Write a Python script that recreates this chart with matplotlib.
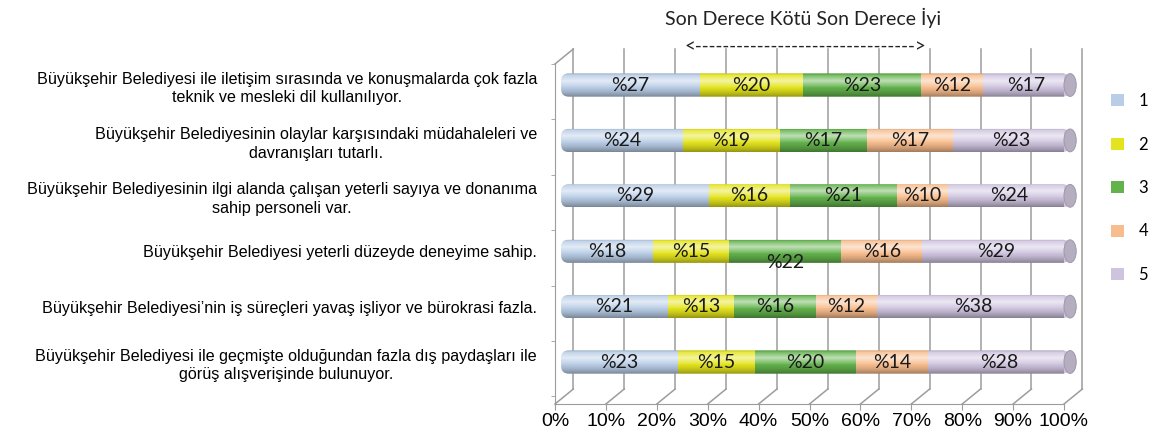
import numpy as np
import matplotlib
matplotlib.use("Agg")
import matplotlib.pyplot as plt
from matplotlib.patches import Patch, FancyBboxPatch, Ellipse

# --- data -------------------------------------------------------------------
statements = [
    "Büyükşehir Belediyesi ile iletişim sırasında ve konuşmalarda çok fazla\nteknik ve mesleki dil kullanılıyor.",
    "Büyükşehir Belediyesinin olaylar karşısındaki müdahaleleri ve\ndavranışları tutarlı.",
    "Büyükşehir Belediyesinin ilgi alanda çalışan yeterli sayıya ve donanıma\nsahip personeli var.",
    "Büyükşehir Belediyesi yeterli düzeyde deneyime sahip.",
    "Büyükşehir Belediyesi’nin iş süreçleri yavaş işliyor ve bürokrasi fazla.",
    "Büyükşehir Belediyesi ile geçmişte olduğundan fazla dış paydaşları ile\ngörüş alışverişinde bulunuyor.",
]
score_labels = ["1", "2", "3", "4", "5"]
score_1 = [27, 24, 29, 18, 21, 23]
score_2 = [20, 19, 16, 15, 13, 15]
score_3 = [23, 17, 21, 22, 16, 20]
score_4 = [12, 17, 10, 16, 12, 14]
score_5 = [17, 23, 24, 29, 38, 28]
x_ticks = [0, 10, 20, 30, 40, 50, 60, 70, 80, 90, 100]
x_tick_labels = [f"{t}%" for t in x_ticks]
scale_title = "Son Derece Kötü Son Derece İyi"
scale_arrow = "<" + "-" * 32 + ">"

series = [score_1, score_2, score_3, score_4, score_5]
colors = ["#B9CDE6", "#E4E41E", "#63B24C", "#F8BD8E", "#CFC4DF"]

# --- figure / axes ------------------------------------------------------------
W, H = 1176, 437
fig = plt.figure(figsize=(W / 100, H / 100), dpi=100)
ax = fig.add_axes([555 / W, 1 - 404 / H, (1064 - 555) / W, (404 - 30) / H])
Y_FLOOR = 5.758
Y_TOP = -0.993

grid_c = "#9C9C9C"
DX, DY = 3.6, 0.27          # depth offset of the back wall
WALL_TOP = -0.38            # top of the front (left) wall
BAR_X0 = 1.2                # bars sit a little behind the front plane
BAR_H = 0.42

# back wall gridlines and floor diagonals
for t in x_ticks:
    ax.plot([t + DX, t + DX], [WALL_TOP - DY, Y_FLOOR - DY], color=grid_c,
            lw=1.1, zorder=1, clip_on=False)
    ax.plot([t, t + DX], [Y_FLOOR, Y_FLOOR - DY], color=grid_c,
            lw=1.1, zorder=1, clip_on=False)
# top edge of the left wall
ax.plot([0, DX], [WALL_TOP, WALL_TOP - DY], color=grid_c, lw=1.1,
        zorder=1, clip_on=False)

# spines as the front edges of floor and left wall
for s in ["top", "right"]:
    ax.spines[s].set_visible(False)
ax.spines["bottom"].set_color(grid_c)
ax.spines["left"].set_color(grid_c)
ax.spines["left"].set_bounds(Y_FLOOR, WALL_TOP)

ax.set_xticks(x_ticks)
ax.set_xticklabels(x_tick_labels, fontsize=14, family="Liberation Sans")
ax.tick_params(axis="x", direction="out", length=4.5, color=grid_c, pad=2)

rows = np.arange(len(statements))
ax.set_yticks(rows)
ax.set_yticklabels(statements, fontsize=11.6, family="Liberation Sans",
                   multialignment="center", linespacing=1.3)
ax.tick_params(axis="y", which="major", length=0, pad=13)
ax.set_yticks(WALL_TOP + np.arange(len(statements) + 1), minor=True)
ax.tick_params(axis="y", which="minor", direction="out", length=3,
               color=grid_c)

# cylinder shading profile (top -> bottom)
n = 64
u = np.linspace(0, 1, n)
light = np.clip(1 - np.abs(u - 0.32) / 0.30, 0, 1) * 0.6
dark = np.clip((u - 0.55) / 0.45, 0, 1) ** 1.5 * 0.35
top_edge = np.clip(1 - u / 0.08, 0, 1) * 0.18
is_light = light > dark + top_edge
shade = np.zeros((n, 1, 4))
shade[:, 0, 0:3] = np.where(is_light, 1.0, 0.0)[:, None]
shade[:, 0, 3] = np.maximum(light, dark + top_edge)

for i in rows:
    total = sum(s[i] for s in series)
    clip = FancyBboxPatch((BAR_X0, i - BAR_H / 2), 100, BAR_H,
                          boxstyle="round,pad=0,rounding_size=1.5",
                          mutation_aspect=0.09, facecolor="none",
                          edgecolor="none", zorder=2, clip_on=False)
    ax.add_patch(clip)
    left = BAR_X0
    for k, s in enumerate(series):
        v = s[i]
        share = v / total * 100      # 100 % stacked bar
        r = ax.barh(i, share, left=left, height=BAR_H, color=colors[k],
                    edgecolor="none", zorder=2)
        p = r.patches[0]
        p.set_clip_path(clip)
        p.set_clip_box(None)
        dy = 0.2 if (i == 3 and k == 2) else 0.0
        ax.text(left + share / 2, i + dy, f"%{v}", ha="center", va="center",
                fontsize=14, family="Lato", color="#1a1a1a", zorder=5,
                clip_on=False)
        left += share
    im = ax.imshow(shade, extent=(BAR_X0, BAR_X0 + 100, i + BAR_H / 2,
                                  i - BAR_H / 2),
                   origin="upper", aspect="auto", interpolation="bilinear",
                   zorder=3)
    im.set_clip_path(clip)
    im.set_clip_box(None)
    cap = Ellipse((BAR_X0 + 100, i), 2.4, BAR_H * 0.98, facecolor="#B5AEC0",
                  edgecolor="#9E98A8", lw=0.7, zorder=4, clip_on=False)
    ax.add_patch(cap)

ax.set_xlim(0, 100)
ax.set_ylim(Y_FLOOR, Y_TOP)

# header above the plot
fig.text(803 / W, 1 - 18 / H, scale_title, ha="center", va="center",
         fontsize=14, family="Lato", color="#222222")
fig.text(805 / W, 1 - 47 / H, scale_arrow, ha="center", va="center",
         fontsize=13.5, family="Lato", color="#222222")

handles = [Patch(facecolor=c, edgecolor="none") for c in colors]
fig.legend(handles, score_labels, loc="center left",
           bbox_to_anchor=(1111 / W, 1 - 188 / H), frameon=False,
           prop={"family": "Lato", "size": 12}, handlelength=0.75,
           handleheight=0.75, handletextpad=0.9, labelspacing=1.65,
           borderpad=0, borderaxespad=0)

fig.savefig("out.png", dpi=100)
